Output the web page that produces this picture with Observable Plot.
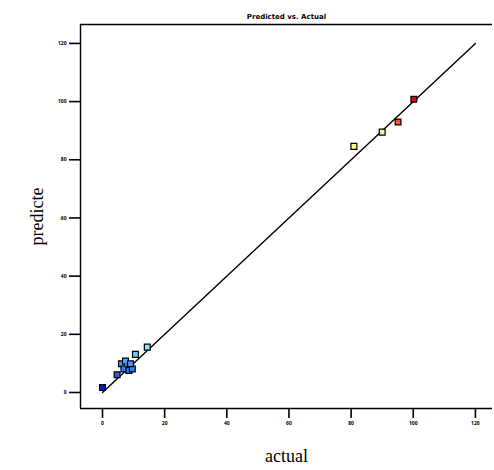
<!DOCTYPE html>
<html>
<head>
<meta charset="utf-8">
<script src="https://cdn.jsdelivr.net/npm/d3@7"></script>
<script src="https://cdn.jsdelivr.net/npm/@observablehq/plot@0.6"></script>
<style>
  body { margin: 0; background: #fff; }
  #chart svg { overflow: visible; }
</style>
</head>
<body>
<div id="chart"></div>
<script>
const title = "Predicted vs. Actual";
const xLabel = "actual";
const yLabel = "predicte";
const actual    = [0, 4.7, 6.1, 7.4, 6.9, 8.5, 9.6, 9.0, 10.6, 14.4, 80.9, 90.0, 95.1, 100.2];
const predicted = [1.7, 6.1, 9.9, 10.8, 8.1, 7.6, 8.1, 9.9, 13.1, 15.6, 84.6, 89.5, 93.0, 100.8];
const tickValues = [0, 20, 40, 60, 80, 100, 120];
const fitLine = [0, 120];

const points = actual.map((a, i) => ({actual: a, predicted: predicted[i]}));
const xDom = [-7.08, 125.5];
const yDom = [-5.5, 126.5];

const plot = Plot.plot({
  width: 494,
  height: 470,
  marginLeft: 80,
  marginRight: 2,
  marginTop: 24,
  marginBottom: 62,
  style: {background: "#fff"},
  x: {domain: xDom},
  y: {domain: yDom},
  color: {
    type: "linear",
    domain: [0, 8, 15, 84, 90, 93, 101],
    range: ["#0000c0", "#2f7cff", "#7fe8ff", "#ffff90", "#fff0b0", "#ff5030", "#e00018"]
  },
  marks: [
    Plot.ruleY([yDom[1]], {stroke: "#000", strokeWidth: 1.6}),
    Plot.ruleX([xDom[0]], {stroke: "#000", strokeWidth: 1.4}),
    Plot.ruleY([yDom[0]], {stroke: "#000", strokeWidth: 1.4}),
    Plot.axisX({ticks: tickValues, tickSize: 10, tickPadding: 3, fontSize: 5, fontWeight: "bold", label: null, strokeWidth: 1.6}),
    Plot.axisY({ticks: tickValues, tickSize: 11, tickPadding: 3, fontSize: 5, fontWeight: "bold", label: null, strokeWidth: 1.6}),
    Plot.line(fitLine, {x: d => d, y: d => d, stroke: "#000", strokeWidth: 1.4}),
    Plot.dot(points, {x: "actual", y: "predicted", symbol: "square", r: 3.3, fill: "predicted", stroke: "#000", strokeWidth: 1.2}),
    Plot.text([title], {frameAnchor: "top", dy: -10, fontSize: 7, fontWeight: "bold", fontFamily: "DejaVu Sans", fill: "#000"}),
    Plot.text([xLabel], {frameAnchor: "bottom", dy: 53, fontSize: 18, fontFamily: "Liberation Serif", fill: "#000"}),
    Plot.text([yLabel], {frameAnchor: "left", dx: -43, rotate: -90, textAnchor: "middle", fontSize: 18, fontFamily: "Liberation Serif", fill: "#000"})
  ]
});
document.getElementById("chart").appendChild(plot);
</script>
</body>
</html>
